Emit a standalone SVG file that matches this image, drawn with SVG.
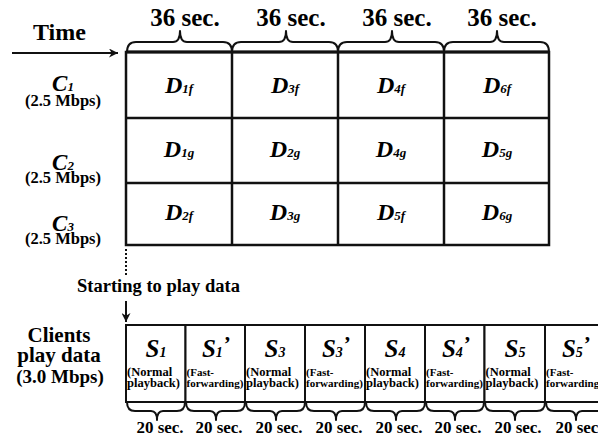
<svg xmlns="http://www.w3.org/2000/svg" width="598" height="442" viewBox="0 0 598 442">
  <defs>
    <marker id="arrowR" viewBox="0 0 10 10" refX="10" refY="5" markerWidth="9" markerHeight="9" markerUnits="userSpaceOnUse" orient="auto">
      <path d="M0,0 L10,5 L0,10 L3,5 Z" fill="#111"/>
    </marker>
  </defs>
  <rect width="598" height="442" fill="#fff"/>

  <!-- time axis header -->
  <g id="time">
    <text font-family="'Times New Roman', 'Liberation Serif', serif" font-weight="bold" font-size="24" x="33" y="40">Time</text>
  </g>

  <!-- 36-second braces over the channel grid -->
  <g id="top-braces">
    <g fill="none" stroke="#111" stroke-width="2" stroke-linejoin="round">
      <path d="M127,52 Q127,42 136,42 L173,42 Q180,42 180,31 Q180,42 187,42 L223,42 Q232,42 232,52"/>
      <path d="M232,52 Q232,42 241,42 L279,42 Q286,42 286,31 Q286,42 293,42 L329,42 Q338,42 338,52"/>
      <path d="M338,52 Q338,42 347,42 L385,42 Q392,42 392,31 Q392,42 399,42 L435,42 Q444,42 444,52"/>
      <path d="M444,52 Q444,42 453,42 L490,42 Q497,42 497,31 Q497,42 504,42 L540,42 Q549,42 549,52"/>
    </g>
    <text font-family="'Times New Roman', 'Liberation Serif', serif" font-weight="bold" font-size="25" text-anchor="middle" x="185" y="26">36 sec.</text>
    <text font-family="'Times New Roman', 'Liberation Serif', serif" font-weight="bold" font-size="25" text-anchor="middle" x="291" y="26">36 sec.</text>
    <text font-family="'Times New Roman', 'Liberation Serif', serif" font-weight="bold" font-size="25" text-anchor="middle" x="397" y="26">36 sec.</text>
    <text font-family="'Times New Roman', 'Liberation Serif', serif" font-weight="bold" font-size="25" text-anchor="middle" x="502" y="26">36 sec.</text>
  </g>

  <!-- channel labels -->
  <g id="channel-c1">
    <text font-family="'Times New Roman', 'Liberation Serif', serif" font-weight="bold" font-style="italic" font-size="23" text-anchor="middle" x="63" y="91">C<tspan font-size="13">1</tspan></text>
    <text font-family="'Times New Roman', 'Liberation Serif', serif" font-weight="bold" font-size="16.5" text-anchor="middle" x="63" y="106">(2.5 Mbps)</text>
  </g>
  <g id="channel-c2">
    <text font-family="'Times New Roman', 'Liberation Serif', serif" font-weight="bold" font-style="italic" font-size="23" text-anchor="middle" x="63" y="170">C<tspan font-size="13">2</tspan></text>
    <text font-family="'Times New Roman', 'Liberation Serif', serif" font-weight="bold" font-size="16.5" text-anchor="middle" x="63" y="183">(2.5 Mbps)</text>
  </g>
  <g id="channel-c3">
    <text font-family="'Times New Roman', 'Liberation Serif', serif" font-weight="bold" font-style="italic" font-size="23" text-anchor="middle" x="63" y="231">C<tspan font-size="13">3</tspan></text>
    <text font-family="'Times New Roman', 'Liberation Serif', serif" font-weight="bold" font-size="16.5" text-anchor="middle" x="63" y="244">(2.5 Mbps)</text>
  </g>

  <!-- segment grid -->
  <g id="grid" fill="none" stroke="#111" stroke-width="2.5">
    <rect x="126" y="52" width="423" height="193"/>
    <line x1="126" y1="52" x2="549" y2="52" stroke-width="3"/>
    <line x1="126" y1="118" x2="549" y2="118"/>
    <line x1="126" y1="183" x2="549" y2="183"/>
    <line x1="232" y1="52" x2="232" y2="245"/>
    <line x1="338" y1="52" x2="338" y2="245"/>
    <line x1="444" y1="52" x2="444" y2="245"/>
  </g>
  <g id="cells">
    <text font-family="'Times New Roman', 'Liberation Serif', serif" font-weight="bold" font-style="italic" font-size="24" text-anchor="middle" x="179" y="93">D<tspan font-size="13">1f</tspan></text>
    <text font-family="'Times New Roman', 'Liberation Serif', serif" font-weight="bold" font-style="italic" font-size="24" text-anchor="middle" x="285" y="93">D<tspan font-size="13">3f</tspan></text>
    <text font-family="'Times New Roman', 'Liberation Serif', serif" font-weight="bold" font-style="italic" font-size="24" text-anchor="middle" x="391" y="93">D<tspan font-size="13">4f</tspan></text>
    <text font-family="'Times New Roman', 'Liberation Serif', serif" font-weight="bold" font-style="italic" font-size="24" text-anchor="middle" x="497" y="93">D<tspan font-size="13">6f</tspan></text>
    <text font-family="'Times New Roman', 'Liberation Serif', serif" font-weight="bold" font-style="italic" font-size="24" text-anchor="middle" x="179" y="157">D<tspan font-size="13">1g</tspan></text>
    <text font-family="'Times New Roman', 'Liberation Serif', serif" font-weight="bold" font-style="italic" font-size="24" text-anchor="middle" x="285" y="157">D<tspan font-size="13">2g</tspan></text>
    <text font-family="'Times New Roman', 'Liberation Serif', serif" font-weight="bold" font-style="italic" font-size="24" text-anchor="middle" x="391" y="157">D<tspan font-size="13">4g</tspan></text>
    <text font-family="'Times New Roman', 'Liberation Serif', serif" font-weight="bold" font-style="italic" font-size="24" text-anchor="middle" x="497" y="157">D<tspan font-size="13">5g</tspan></text>
    <text font-family="'Times New Roman', 'Liberation Serif', serif" font-weight="bold" font-style="italic" font-size="24" text-anchor="middle" x="179" y="220">D<tspan font-size="13">2f</tspan></text>
    <text font-family="'Times New Roman', 'Liberation Serif', serif" font-weight="bold" font-style="italic" font-size="24" text-anchor="middle" x="285" y="220">D<tspan font-size="13">3g</tspan></text>
    <text font-family="'Times New Roman', 'Liberation Serif', serif" font-weight="bold" font-style="italic" font-size="24" text-anchor="middle" x="391" y="220">D<tspan font-size="13">5f</tspan></text>
    <text font-family="'Times New Roman', 'Liberation Serif', serif" font-weight="bold" font-style="italic" font-size="24" text-anchor="middle" x="497" y="220">D<tspan font-size="13">6g</tspan></text>
  </g>

  <!-- connectors -->
  <g id="connectors" fill="none" stroke="#111" stroke-width="2">
    <line x1="12" y1="53" x2="118" y2="53" marker-end="url(#arrowR)"/>
    <line x1="126" y1="249" x2="126" y2="277" stroke-dasharray="2 2"/>
    <line x1="126" y1="301" x2="126" y2="322" marker-end="url(#arrowR)"/>
  </g>

  <g id="start-label">
    <text font-family="'Times New Roman', 'Liberation Serif', serif" font-weight="bold" font-size="18.5" x="77" y="292">Starting to play data</text>
  </g>

  <g id="clients">
    <text font-family="'Times New Roman', 'Liberation Serif', serif" font-weight="bold" font-size="21" text-anchor="middle" x="59" y="342">Clients</text>
    <text font-family="'Times New Roman', 'Liberation Serif', serif" font-weight="bold" font-size="21" text-anchor="middle" x="59" y="362">play data</text>
    <text font-family="'Times New Roman', 'Liberation Serif', serif" font-weight="bold" font-size="19" text-anchor="middle" x="60" y="383">(3.0 Mbps)</text>
  </g>

  <!-- client playback segments, 20 s each -->
  <g id="segments">
    <g id="seg-s1">
      <rect x="126" y="325" width="59.5" height="77" fill="#fff" stroke="#111" stroke-width="2"/>
      <text font-family="'Times New Roman', 'Liberation Serif', serif" font-weight="bold" font-style="italic" font-size="25" text-anchor="middle" x="156" y="357">S<tspan font-size="14">1</tspan></text>
      <text font-family="'Times New Roman', 'Liberation Serif', serif" font-weight="bold" font-size="12.5" x="127" y="376">(Normal</text>
      <text font-family="'Times New Roman', 'Liberation Serif', serif" font-weight="bold" font-size="12.5" x="127" y="387">playback)</text>
    </g>
    <g id="seg-s1p">
      <rect x="185.5" y="325" width="59.5" height="77" fill="#fff" stroke="#111" stroke-width="2"/>
      <text font-family="'Times New Roman', 'Liberation Serif', serif" font-weight="bold" font-style="italic" font-size="25" text-anchor="middle" x="216" y="357">S<tspan font-size="14">1</tspan><tspan font-size="22" dy="-6">&#8217;</tspan></text>
      <text font-family="'Times New Roman', 'Liberation Serif', serif" font-weight="bold" font-size="11" x="186.5" y="376">(Fast-</text>
      <text font-family="'Times New Roman', 'Liberation Serif', serif" font-weight="bold" font-size="11" x="186.5" y="387">forwarding)</text>
    </g>
    <g id="seg-s3">
      <rect x="245" y="325" width="60" height="77" fill="#fff" stroke="#111" stroke-width="2"/>
      <text font-family="'Times New Roman', 'Liberation Serif', serif" font-weight="bold" font-style="italic" font-size="25" text-anchor="middle" x="275" y="357">S<tspan font-size="14">3</tspan></text>
      <text font-family="'Times New Roman', 'Liberation Serif', serif" font-weight="bold" font-size="12.5" x="246" y="376">(Normal</text>
      <text font-family="'Times New Roman', 'Liberation Serif', serif" font-weight="bold" font-size="12.5" x="246" y="387">playback)</text>
    </g>
    <g id="seg-s3p">
      <rect x="305" y="325" width="60" height="77" fill="#fff" stroke="#111" stroke-width="2"/>
      <text font-family="'Times New Roman', 'Liberation Serif', serif" font-weight="bold" font-style="italic" font-size="25" text-anchor="middle" x="336" y="357">S<tspan font-size="14">3</tspan><tspan font-size="22" dy="-6">&#8217;</tspan></text>
      <text font-family="'Times New Roman', 'Liberation Serif', serif" font-weight="bold" font-size="11" x="306" y="376">(Fast-</text>
      <text font-family="'Times New Roman', 'Liberation Serif', serif" font-weight="bold" font-size="11" x="306" y="387">forwarding)</text>
    </g>
    <g id="seg-s4">
      <rect x="365" y="325" width="60" height="77" fill="#fff" stroke="#111" stroke-width="2"/>
      <text font-family="'Times New Roman', 'Liberation Serif', serif" font-weight="bold" font-style="italic" font-size="25" text-anchor="middle" x="395" y="357">S<tspan font-size="14">4</tspan></text>
      <text font-family="'Times New Roman', 'Liberation Serif', serif" font-weight="bold" font-size="12.5" x="366" y="376">(Normal</text>
      <text font-family="'Times New Roman', 'Liberation Serif', serif" font-weight="bold" font-size="12.5" x="366" y="387">playback)</text>
    </g>
    <g id="seg-s4p">
      <rect x="425" y="325" width="59.5" height="77" fill="#fff" stroke="#111" stroke-width="2"/>
      <text font-family="'Times New Roman', 'Liberation Serif', serif" font-weight="bold" font-style="italic" font-size="25" text-anchor="middle" x="456" y="357">S<tspan font-size="14">4</tspan><tspan font-size="22" dy="-6">&#8217;</tspan></text>
      <text font-family="'Times New Roman', 'Liberation Serif', serif" font-weight="bold" font-size="11" x="426" y="376">(Fast-</text>
      <text font-family="'Times New Roman', 'Liberation Serif', serif" font-weight="bold" font-size="11" x="426" y="387">forwarding)</text>
    </g>
    <g id="seg-s5">
      <rect x="484.5" y="325" width="60.5" height="77" fill="#fff" stroke="#111" stroke-width="2"/>
      <text font-family="'Times New Roman', 'Liberation Serif', serif" font-weight="bold" font-style="italic" font-size="25" text-anchor="middle" x="515" y="357">S<tspan font-size="14">5</tspan></text>
      <text font-family="'Times New Roman', 'Liberation Serif', serif" font-weight="bold" font-size="12.5" x="485.5" y="376">(Normal</text>
      <text font-family="'Times New Roman', 'Liberation Serif', serif" font-weight="bold" font-size="12.5" x="485.5" y="387">playback)</text>
    </g>
    <g id="seg-s5p">
      <rect x="545" y="325" width="60" height="77" fill="#fff" stroke="#111" stroke-width="2"/>
      <text font-family="'Times New Roman', 'Liberation Serif', serif" font-weight="bold" font-style="italic" font-size="25" text-anchor="middle" x="576" y="357">S<tspan font-size="14">5</tspan><tspan font-size="22" dy="-6">&#8217;</tspan></text>
      <text font-family="'Times New Roman', 'Liberation Serif', serif" font-weight="bold" font-size="11" x="546" y="376">(Fast-</text>
      <text font-family="'Times New Roman', 'Liberation Serif', serif" font-weight="bold" font-size="11" x="546" y="387">forwarding)</text>
    </g>
  </g>

  <!-- 20-second braces under the segments -->
  <g id="bottom-braces">
    <g fill="none" stroke="#111" stroke-width="2" stroke-linejoin="round">
      <path d="M127,402 Q127,411 135,411 L151,411 Q157,411 157,420 Q157,411 163,411 L177,411 Q185,411 185,402"/>
      <path d="M186,402 Q186,411 194,411 L210,411 Q216,411 216,420 Q216,411 222,411 L237,411 Q245,411 245,402"/>
      <path d="M246,402 Q246,411 254,411 L270,411 Q276,411 276,420 Q276,411 282,411 L297,411 Q305,411 305,402"/>
      <path d="M306,402 Q306,411 314,411 L330,411 Q336,411 336,420 Q336,411 342,411 L357,411 Q365,411 365,402"/>
      <path d="M366,402 Q366,411 374,411 L390,411 Q396,411 396,420 Q396,411 402,411 L417,411 Q425,411 425,402"/>
      <path d="M426,402 Q426,411 434,411 L449,411 Q455,411 455,420 Q455,411 461,411 L476,411 Q484,411 484,402"/>
      <path d="M485,402 Q485,411 493,411 L509,411 Q515,411 515,420 Q515,411 521,411 L537,411 Q545,411 545,402"/>
      <path d="M546,402 Q546,411 554,411 L570,411 Q576,411 576,420 Q576,411 582,411 L597,411 Q605,411 605,402"/>
    </g>
    <text font-family="'Times New Roman', 'Liberation Serif', serif" font-weight="bold" font-size="17" text-anchor="middle" x="160" y="433">20 sec.</text>
    <text font-family="'Times New Roman', 'Liberation Serif', serif" font-weight="bold" font-size="17" text-anchor="middle" x="219" y="433">20 sec.</text>
    <text font-family="'Times New Roman', 'Liberation Serif', serif" font-weight="bold" font-size="17" text-anchor="middle" x="279" y="433">20 sec.</text>
    <text font-family="'Times New Roman', 'Liberation Serif', serif" font-weight="bold" font-size="17" text-anchor="middle" x="339" y="433">20 sec.</text>
    <text font-family="'Times New Roman', 'Liberation Serif', serif" font-weight="bold" font-size="17" text-anchor="middle" x="399" y="433">20 sec.</text>
    <text font-family="'Times New Roman', 'Liberation Serif', serif" font-weight="bold" font-size="17" text-anchor="middle" x="458" y="433">20 sec.</text>
    <text font-family="'Times New Roman', 'Liberation Serif', serif" font-weight="bold" font-size="17" text-anchor="middle" x="518" y="433">20 sec.</text>
    <text font-family="'Times New Roman', 'Liberation Serif', serif" font-weight="bold" font-size="17" text-anchor="middle" x="579" y="433">20 sec.</text>
  </g>
</svg>
